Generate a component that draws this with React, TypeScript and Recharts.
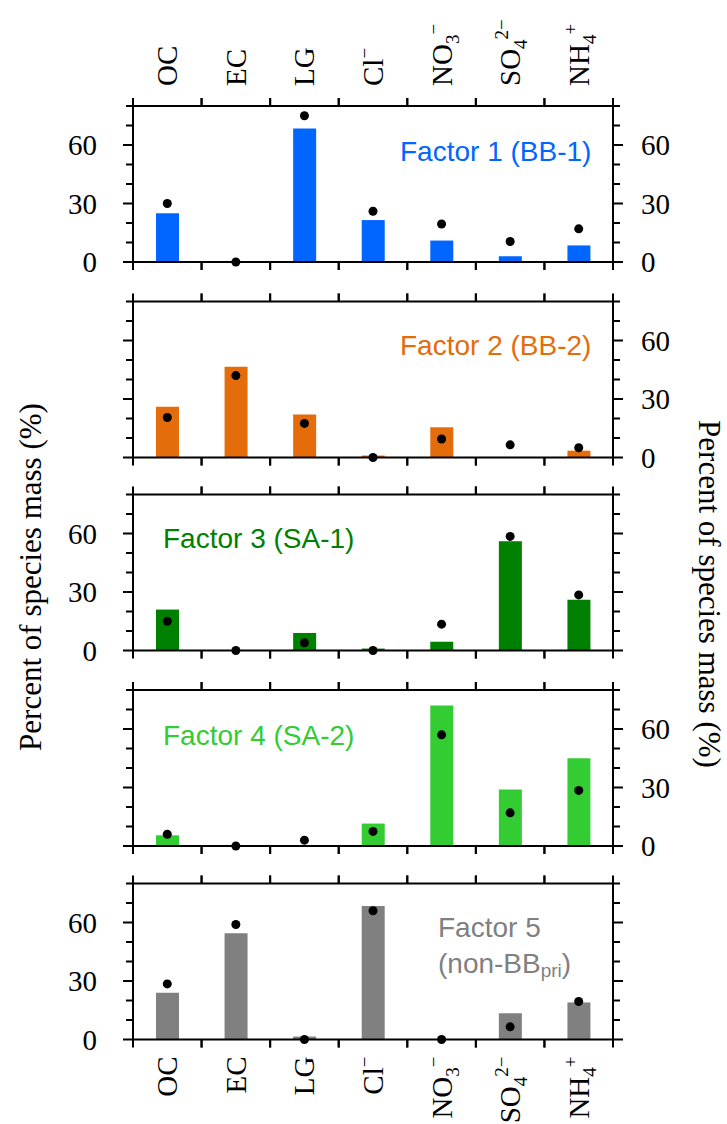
import { ComposedChart, Bar, Line, XAxis, YAxis } from 'recharts'

// species (tick labels): base text, subscript, superscript
const speciesBase = ['OC', 'EC', 'LG', 'Cl', 'NO', 'SO', 'NH']
const speciesSub = ['', '', '', '', '3', '4', '4']
const speciesSup = ['', '', '', '−', '−', '2−', '+']

const yTicks = [0, 10, 20, 30, 40, 50, 60, 70, 80]
const yLabelTicks = [0, 30, 60]

// bars = factor profile, dots = second estimate
const f1Bars = [25, 0, 68.5, 21.5, 11, 3, 8.5]
const f1Dots = [30, 0, 75, 26, 19.5, 10.5, 17]
const f2Bars = [26, 46.5, 22, 1, 15.5, 0, 3.5]
const f2Dots = [20.5, 42, 17.5, 0, 9.5, 6.5, 5]
const f3Bars = [21, 0, 9, 1, 4.5, 56, 26]
const f3Dots = [15, 0, 4, 0, 13.5, 58.5, 28.5]
const f4Bars = [5.5, 0, 0, 11.5, 72, 29, 45]
const f4Dots = [6, 0, 3, 7.5, 57, 17, 28.5]
const f5Bars = [24, 54.5, 1.5, 68.5, 0, 13.5, 19]
const f5Dots = [28.5, 59, 0, 66, 0, 6.5, 19.5]

const W = 727
const H = 1124
const LEFT = 133
const RIGHT = 613
const PH = 156
const SERIF = '"Liberation Serif", "Times New Roman", serif'
const SANS = '"Liberation Sans", Arial, sans-serif'

const names = speciesBase.map((b, i) => b + speciesSub[i] + speciesSup[i])

const panels = [
  { top: 106, bars: f1Bars, dots: f1Dots, color: '#0066FF', leftLbl: true, rightLbl: true, topLbl: true, botLbl: false },
  { top: 301.5, bars: f2Bars, dots: f2Dots, color: '#E46C0A', leftLbl: false, rightLbl: true, topLbl: false, botLbl: false },
  { top: 494.5, bars: f3Bars, dots: f3Dots, color: '#008000', leftLbl: true, rightLbl: false, topLbl: false, botLbl: false },
  { top: 690, bars: f4Bars, dots: f4Dots, color: '#33CC33', leftLbl: false, rightLbl: true, topLbl: false, botLbl: false },
  { top: 883.5, bars: f5Bars, dots: f5Dots, color: '#808080', leftLbl: true, rightLbl: false, topLbl: false, botLbl: true },
]

function SpeciesText({ i, x, y, anchor }: { i: number; x: number; y: number; anchor: 'start' | 'end' }) {
  const px = x + 10
  const sub = speciesSub[i]
  const sup = speciesSup[i]
  return (
    <text x={px} y={y} transform={`rotate(-90 ${px} ${y})`} textAnchor={anchor}
      fontFamily={SERIF} fontSize={29} fill="#000">
      <tspan>{speciesBase[i]}</tspan>
      {sub && <tspan fontSize={19} dy={7}>{sub}</tspan>}
      {sup && <tspan fontSize={19} dy={sub ? -19 : -12}>{sup}</tspan>}
    </text>
  )
}

function XTick(props: any) {
  const { x, y, payload, side, showLabel } = props
  const i = names.indexOf(payload.value)
  const half = payload.offset ?? (RIGHT - LEFT) / names.length / 2
  const dir = side === 'top' ? -1 : 1
  return (
    <g>
      <line x1={x - half} x2={x - half} y1={y} y2={y + dir * 8} stroke="#000" strokeWidth={2} />
      <line x1={x + half} x2={x + half} y1={y} y2={y + dir * 8} stroke="#000" strokeWidth={2} />
      {showLabel && (side === 'top'
        ? <SpeciesText i={i} x={x} y={y - 20} anchor="start" />
        : <SpeciesText i={i} x={x} y={y + 17} anchor="end" />)}
    </g>
  )
}

function YTick(props: any) {
  const { x, y, payload, side, showLabel } = props
  const v = payload.value
  const major = yLabelTicks.includes(v)
  const dir = side === 'left' ? -1 : 1
  return (
    <g>
      <line x1={x} x2={x + dir * (major ? 10 : 7)} y1={y} y2={y} stroke="#000" strokeWidth={2} />
      {showLabel && major && (
        <text x={side === 'left' ? x - 36 : x + 28} y={y} dy="0.35em"
          textAnchor={side === 'left' ? 'end' : 'start'} fontFamily={SERIF} fontSize={29} fill="#000">
          {v}
        </text>
      )}
    </g>
  )
}

function Panel({ p }: { p: typeof panels[number] }) {
  const rows = names.map((n, i) => ({ name: n, bar: p.bars[i], dot: p.dots[i] }))
  const axisLine = { stroke: '#000', strokeWidth: 2 }
  return (
    <div style={{ position: 'absolute', left: 0, top: 0 }}>
      <ComposedChart width={W} height={H} data={rows}
        margin={{ top: p.top - 1, right: W - RIGHT - 1, bottom: H - p.top - PH - 1, left: LEFT - 1 }}>
        <XAxis xAxisId="b" dataKey="name" orientation="bottom" height={1} interval={0}
          tickSize={0} tickMargin={0} tickLine={false} axisLine={axisLine}
          tick={(t: any) => <XTick {...t} side="bottom" showLabel={p.botLbl} />} />
        <XAxis xAxisId="t" dataKey="name" orientation="top" height={1} interval={0}
          tickSize={0} tickMargin={0} tickLine={false} axisLine={axisLine}
          tick={(t: any) => <XTick {...t} side="top" showLabel={p.topLbl} />} />
        <YAxis yAxisId="l" orientation="left" width={1} domain={[0, 80]} ticks={yTicks} interval={0}
          tickSize={0} tickMargin={0} tickLine={false} axisLine={axisLine}
          tick={(t: any) => <YTick {...t} side="left" showLabel={p.leftLbl} />} />
        <YAxis yAxisId="r" orientation="right" width={1} domain={[0, 80]} ticks={yTicks} interval={0}
          allowDataOverflow tickSize={0} tickMargin={0} tickLine={false} axisLine={axisLine}
          tick={(t: any) => <YTick {...t} side="right" showLabel={p.rightLbl} />} />
        <Bar xAxisId="b" yAxisId="l" dataKey="bar" fill={p.color} barSize={23} isAnimationActive={false} />
        <Line xAxisId="b" yAxisId="l" dataKey="dot" stroke="none" strokeWidth={0}
          dot={{ r: 4.5, fill: '#000', stroke: 'none', clipDot: false }} activeDot={false} isAnimationActive={false} />
      </ComposedChart>
    </div>
  )
}

export default function App() {
  return (
    <div style={{ position: 'absolute', left: 0, top: 0, width: W, height: H, background: '#fff' }}>
      {panels.map((p, i) => <Panel key={i} p={p} />)}
      <svg width={W} height={H} style={{ position: 'absolute', left: 0, top: 0, pointerEvents: 'none' }}>
        <text x={30} y={577} transform="rotate(-90 30 577)" textAnchor="middle" dominantBaseline="central"
          fontFamily={SERIF} fontSize={31} fill="#000">Percent of species mass (%)</text>
        <text x={709} y={594} transform="rotate(90 709 594)" textAnchor="middle" dominantBaseline="central"
          fontFamily={SERIF} fontSize={31} fill="#000">Percent of species mass (%)</text>
        <g fontFamily={SANS} fontSize={28} dominantBaseline="central">
          <text x={400} y={151} fill={panels[0].color}>Factor 1 (BB-1)</text>
          <text x={400} y={345} fill={panels[1].color}>Factor 2 (BB-2)</text>
          <text x={163} y={538} fill={panels[2].color}>Factor 3 (SA-1)</text>
          <text x={163} y={735} fill={panels[3].color}>Factor 4 (SA-2)</text>
          <text x={438} y={927} fill={panels[4].color}>Factor 5</text>
          <text x={438} y={963} fill={panels[4].color}>
            (non-BB<tspan fontSize={19} dy={7}>pri</tspan><tspan dy={-7}>)</tspan>
          </text>
        </g>
      </svg>
    </div>
  )
}
